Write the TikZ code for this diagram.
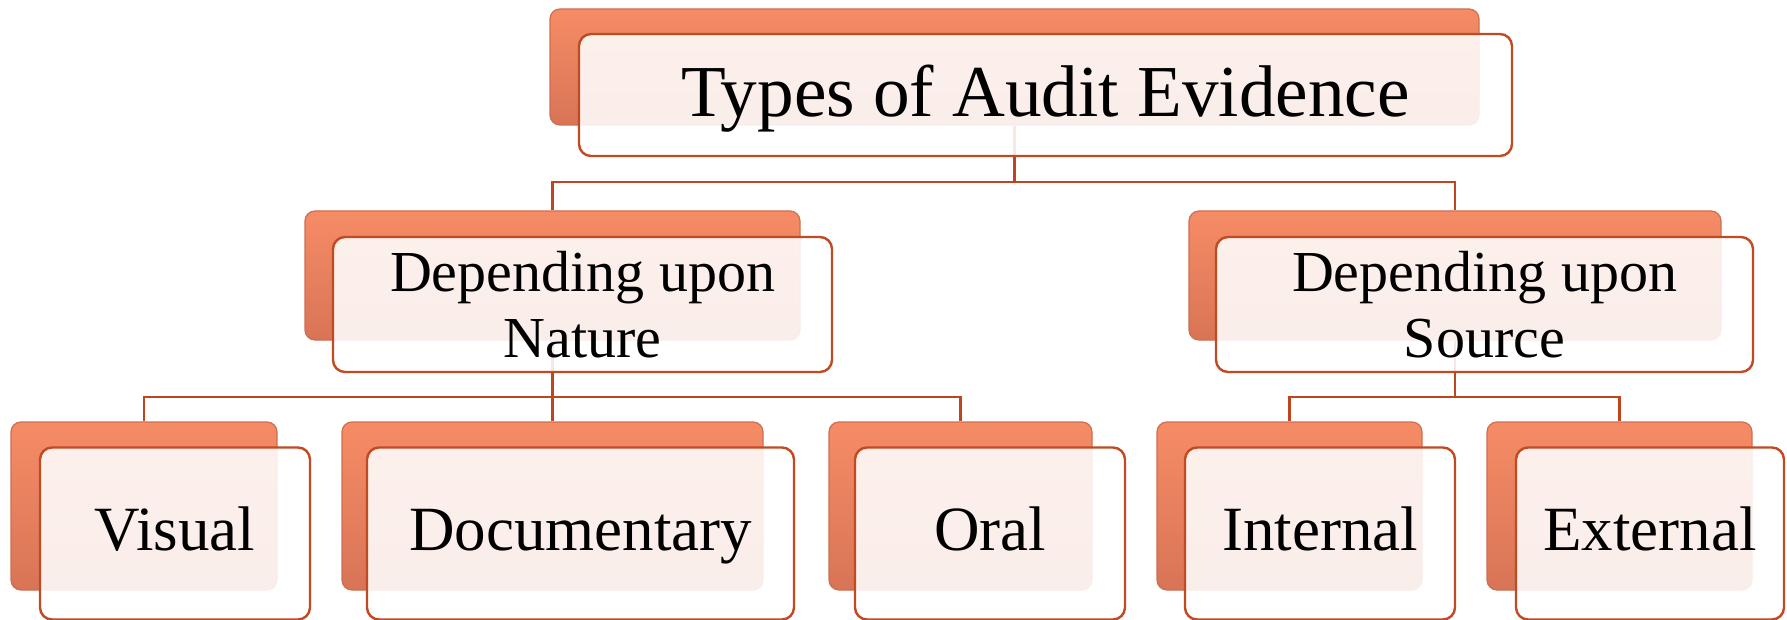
\documentclass[tikz,border=0pt]{standalone}
\usepackage{fontspec}
\setmainfont{Liberation Serif}
\definecolor{lineC}{RGB}{190,70,30}
\definecolor{backTop}{RGB}{246,140,102}
\definecolor{backBot}{RGB}{216,116,86}
\definecolor{backEdge}{RGB}{205,110,80}
\definecolor{frontEdge}{RGB}{194,74,34}
\tikzset{
  backbox/.style={rounded corners=5pt, top color=backTop, bottom color=backBot, draw=backEdge, line width=0.6pt, inner sep=0pt},
  frontbox/.style={rounded corners=6pt, draw=frontEdge, line width=1.2pt, fill=white, fill opacity=0.88, text opacity=1, text=black, align=center, inner sep=0pt},
  conn/.style={draw=lineC, line width=1.1pt},
  titlefont/.style={font=\fontsize{36.6}{40}\selectfont, text height=30pt, text depth=8pt},
  midfont/.style={font=\fontsize{29}{33}\selectfont},
  lowfont/.style={font=\fontsize{31.5}{34}\selectfont, text height=24pt, text depth=7pt},
}
\begin{document}
\begin{tikzpicture}[x=0.5pt,y=-0.5pt]
\useasboundingbox (0,0) rectangle (1787,620);
% back boxes
\node[backbox, minimum width=464.5pt, minimum height=58pt] (tb) at (1014.5,67) {};
\node[backbox, minimum width=247.5pt, minimum height=64.5pt] (nb) at (552.5,275.5) {};
\node[backbox, minimum width=266pt, minimum height=64.5pt] (sb) at (1455,275.5) {};
\node[backbox, minimum width=133pt, minimum height=84pt] (vb) at (144,506) {};
\node[backbox, minimum width=210.5pt, minimum height=84pt] (db) at (552.5,506) {};
\node[backbox, minimum width=131.5pt, minimum height=84pt] (ob) at (960.5,506) {};
\node[backbox, minimum width=132.5pt, minimum height=84pt] (ib) at (1289.5,506) {};
\node[backbox, minimum width=132.5pt, minimum height=84pt] (eb) at (1619.5,506) {};
% connectors
\coordinate (j1) at (1014.5,182);
\coordinate (j2) at (552.5,397);
\coordinate (j3) at (1455,397);
\draw[conn] (tb.south) -- (j1);
\draw[conn] (nb.north) |- (j1) -| (sb.north);
\draw[conn] (nb.south) -- (db.north);
\draw[conn] (vb.north) |- (j2) -| (ob.north);
\draw[conn] (sb.south) -- (j3);
\draw[conn] (ib.north) |- (j3) -| (eb.north);
% front boxes
\node[frontbox, titlefont, minimum width=466.5pt, minimum height=61pt] (tf) at (1045.5,95) {Types of Audit Evidence};
\node[frontbox, midfont, minimum width=249.5pt, minimum height=67.5pt] (nf) at (582.5,304.5) {Depending upon\\Nature};
\node[frontbox, midfont, minimum width=268.5pt, minimum height=67.5pt] (sf) at (1484.5,304.5) {Depending upon\\Source};
\node[frontbox, lowfont, minimum width=135pt, minimum height=86pt] (vf) at (175,533.5) {Visual};
\node[frontbox, lowfont, minimum width=213.5pt, minimum height=86pt] (df) at (580.5,533.5) {Documentary};
\node[frontbox, lowfont, minimum width=135pt, minimum height=86pt] (of) at (990,533.5) {Oral};
\node[frontbox, lowfont, minimum width=135pt, minimum height=86pt] (if) at (1320,533.5) {Internal};
\node[frontbox, lowfont, minimum width=134pt, minimum height=86pt] (ef) at (1650,533.5) {External};
\end{tikzpicture}
\end{document}
